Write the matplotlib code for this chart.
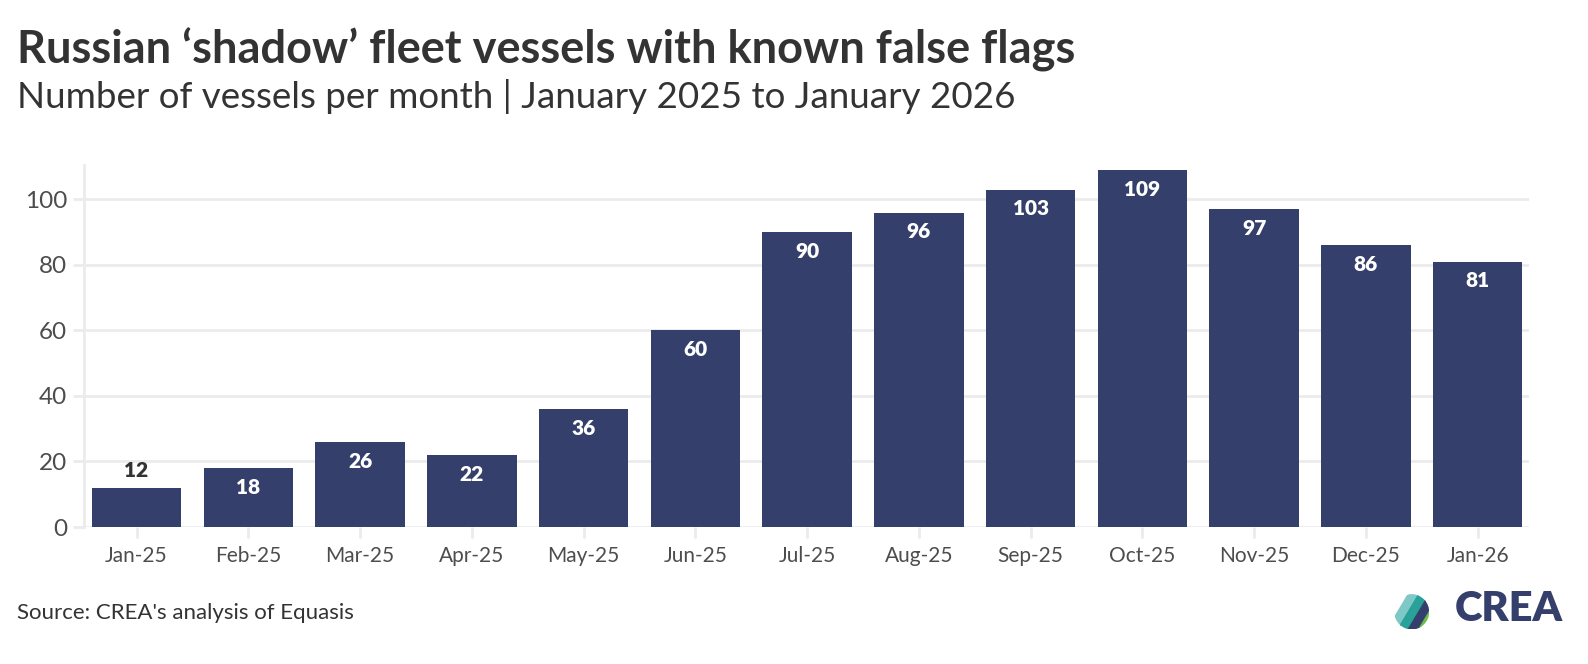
import matplotlib
matplotlib.use("Agg")
import matplotlib.pyplot as plt
import numpy as np
from matplotlib.patches import Circle, Polygon

plt.rcParams['font.family'] = ['Lato', 'DejaVu Sans']

months = ["Jan-25", "Feb-25", "Mar-25", "Apr-25", "May-25", "Jun-25", "Jul-25",
          "Aug-25", "Sep-25", "Oct-25", "Nov-25", "Dec-25", "Jan-26"]
vessels = [12, 18, 26, 22, 36, 60, 90, 96, 103, 109, 97, 86, 81]
yticks = [0, 20, 40, 60, 80, 100]

navy = "#353f6b"
grid = "#ebebeb"

fig = plt.figure(figsize=(15.88, 6.64), dpi=100)
ax = fig.add_axes([0.0529, 0.2063, 0.910, 0.5452])

x = np.arange(len(months))
ax.bar(x, vessels, width=0.8, color=navy, zorder=3)

for xi, v in zip(x, vessels):
    if v < 15:
        ax.text(xi, v + 2.2, str(v), ha="center", va="bottom", color="#333333",
                fontsize=15, fontweight="heavy", zorder=4)
    else:
        ax.text(xi, v - 3.0, str(v), ha="center", va="top", color="white",
                fontsize=15, fontweight="heavy", zorder=4)

ax.set_xlim(-0.47, 12.46)
ax.set_ylim(0, 110.5)
ax.set_yticks(yticks)
ax.set_xticks(x)
ax.set_xticklabels(months)
ax.grid(axis="y", color=grid, linewidth=2, zorder=0)
for s in ["top", "right", "bottom"]:
    ax.spines[s].set_visible(False)
ax.spines["left"].set_color(grid)
ax.spines["left"].set_linewidth(2)
ax.tick_params(axis="y", length=8, width=2, color=grid, labelsize=17.5, labelcolor="#4d4d4d", pad=4)
ax.tick_params(axis="x", length=8, width=2, color=grid, labelsize=15, labelcolor="#4d4d4d", pad=6)

fig.text(0.011, 0.905, "Russian \u2018shadow\u2019 fleet vessels with known false flags",
         fontsize=32.5, fontweight="bold", color="#333333", ha="left", va="baseline")
fig.text(0.011, 0.838, "Number of vessels per month | January 2025 to January 2026",
         fontsize=26.5, color="#333333", ha="left", va="baseline")
fig.text(0.011, 0.068, "Source: CREA's analysis of Equasis",
         fontsize=16, color="#333333", ha="left", va="baseline")

# CREA logo
fig.text(0.984, 0.083, "CREA", fontsize=30, fontweight="heavy", color=navy,
         ha="right", va="center")
lax = fig.add_axes([0.878, 0.052, 0.022, 0.053])
lax.set_xlim(0, 1)
lax.set_ylim(0, 1)
lax.axis("off")
clip = Circle((0.5, 0.5), 0.5, transform=lax.transData)
stripes = [("#7ec8c8", -0.2), ("#2aa198", 0.1), (navy, 0.4), ("#6cbf4a", 0.7), (navy, 1.0)]
for col, off in stripes:
    p = Polygon([[off, 0], [off + 0.3, 0], [off + 0.3 + 0.6, 1], [off + 0.6, 1]],
                closed=True, color=col)
    lax.add_patch(p)
    p.set_clip_path(clip)

fig.savefig("out.png", dpi=100)
